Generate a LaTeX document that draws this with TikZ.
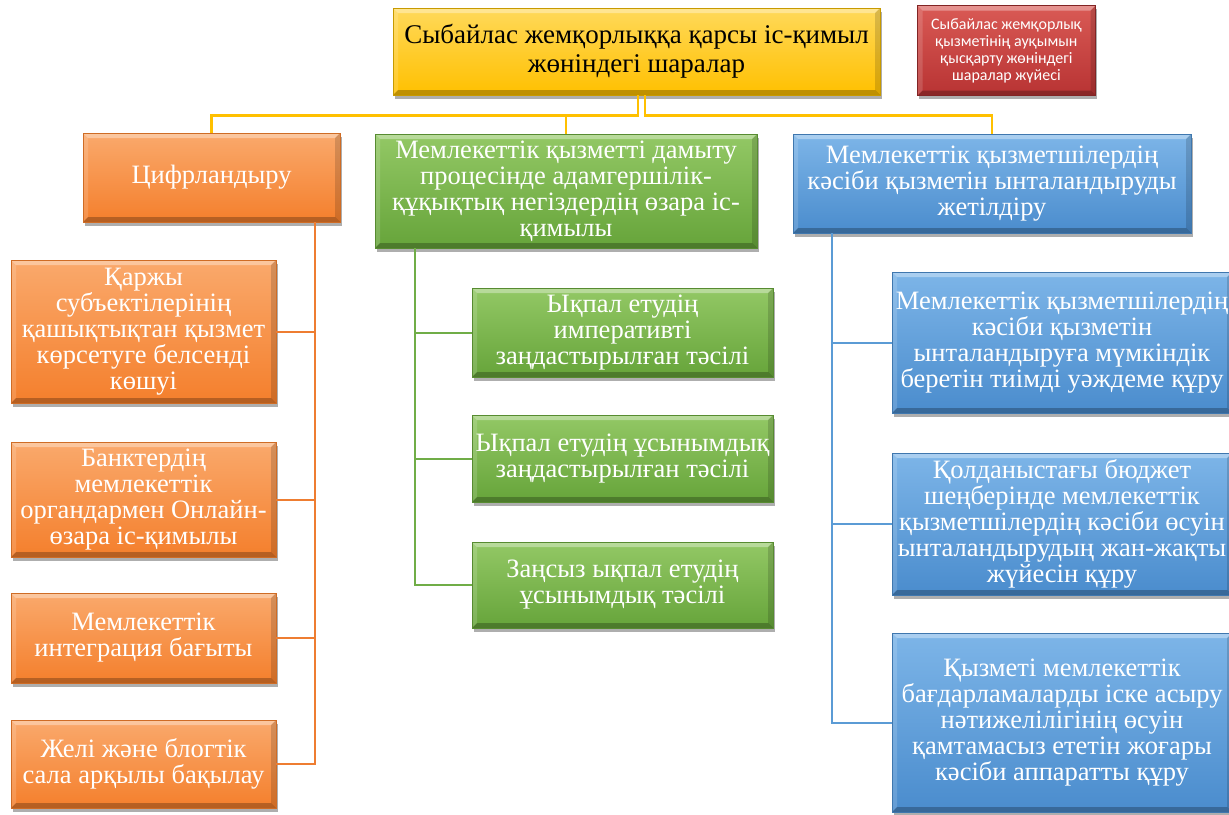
\documentclass[tikz,border=0pt]{standalone}
\usepackage{fontspec}
\setmainfont{Liberation Serif}
\newfontfamily\notefont{Carlito}
\usepackage{xcolor}
\usepackage{tikz}
\usetikzlibrary{positioning, shadows, calc}

\definecolor{ygold}{HTML}{FFC000}
\definecolor{ygoldlt}{HTML}{FFD95A}
\definecolor{ygolddk}{HTML}{C79A00}
\definecolor{rnote}{HTML}{B83333}
\definecolor{rnotelt}{HTML}{D95A55}
\definecolor{obox}{HTML}{F47F2C}
\definecolor{oboxlt}{HTML}{FAA96C}
\definecolor{oline}{HTML}{EE7D31}
\definecolor{gbox}{HTML}{66A43A}
\definecolor{gboxlt}{HTML}{93C865}
\definecolor{gline}{HTML}{70AD47}
\definecolor{bbox}{HTML}{4A8CCD}
\definecolor{bboxlt}{HTML}{7DB5E8}
\definecolor{bline}{HTML}{5B9BD5}

\tikzset{
  bevel/.style={path picture={
    \coordinate (pNW) at (path picture bounding box.north west);
    \coordinate (pNE) at (path picture bounding box.north east);
    \coordinate (pSW) at (path picture bounding box.south west);
    \coordinate (pSE) at (path picture bounding box.south east);
    \fill[white,opacity=.35] (pNW) -- (pNE) -- ([shift={(-5pt,-5pt)}]pNE) -- ([shift={(5pt,-5pt)}]pNW) -- cycle;
    \fill[white,opacity=.15] (pNW) -- ([shift={(5pt,-5pt)}]pNW) -- ([shift={(5pt,5pt)}]pSW) -- (pSW) -- cycle;
    \fill[black,opacity=.25] (pSW) -- ([shift={(5pt,5pt)}]pSW) -- ([shift={(-5pt,5pt)}]pSE) -- (pSE) -- cycle;
    \fill[black,opacity=.15] (pNE) -- (pSE) -- ([shift={(-5pt,5pt)}]pSE) -- ([shift={(-5pt,-5pt)}]pNE) -- cycle;
  }},
  basebox/.style={rectangle, align=center, inner sep=0pt, bevel,
    drop shadow={shadow xshift=1.5pt, shadow yshift=-3.5pt, opacity=.45, fill=black!70},
    font=\fontsize{26.5}{26}\selectfont, text=white},
  titlebox/.style={basebox, top color=ygoldlt, bottom color=ygold, draw=ygolddk, line width=.8pt,
    text=black, font=\fontsize{27}{29}\selectfont},
  notebox/.style={basebox, top color=rnotelt, bottom color=rnote, draw=rnote!70!black, line width=.6pt,
    font=\notefont\fontsize{16}{17}\selectfont},
  orangebox/.style={basebox, top color=oboxlt, bottom color=obox, draw=obox!85!black, line width=.5pt},
  greenbox/.style={basebox, top color=gboxlt, bottom color=gbox, draw=gbox!85!black, line width=.5pt},
  bluebox/.style={basebox, top color=bboxlt, bottom color=bbox, draw=bbox!85!black, line width=.5pt},
  yconn/.style={draw=ygold, line width=2.2pt},
  oconn/.style={draw=oline, line width=2pt},
  gconn/.style={draw=gline, line width=2pt},
  bconn/.style={draw=bline, line width=2pt}
}

\begin{document}
\begin{tikzpicture}[x=1pt, y=-1pt]
    \fill[white] (0,0) rectangle (1229,814);
    \useasboundingbox (0,0) rectangle (1229,814);

    % top level
    \node[titlebox, minimum width=487pt, minimum height=87pt] (title) at (636.5,51.5)
      {Сыбайлас жемқорлыққа қарсы іс-қимыл\\жөніндегі шаралар};
    \node[notebox, minimum width=178pt, minimum height=90pt] (note) at (1006.5,50.5)
      {Сыбайлас жемқорлық\\қызметінің ауқымын\\қысқарту жөніндегі\\шаралар жүйесі};

    % three directions
    \node[orangebox, minimum width=257pt, minimum height=89pt] (cifr) at (211.5,177.5) {Цифрландыру};
    \node[greenbox, minimum width=382pt, minimum height=114pt] (adam) at (566,191)
      {Мемлекеттік қызметті дамыту\\процесінде адамгершілік-\\құқықтық негіздердің өзара іс-\\қимылы};
    \node[bluebox, minimum width=398pt, minimum height=99pt] (ynta) at (992,183.5)
      {Мемлекеттік қызметшілердің\\кәсіби қызметін ынталандыруды\\жетілдіру};

    % orange column
    \node[orangebox, minimum width=265pt, minimum height=143pt] (c1) at (143.5,331.5)
      {Қаржы\\субъектілерінің\\қашықтықтан қызмет\\көрсетуге белсенді\\көшуі};
    \node[orangebox, minimum width=265pt, minimum height=115pt] (c2) at (143.5,499.5)
      {Банктердің\\мемлекеттік\\органдармен Онлайн-\\өзара іс-қимылы};
    \node[orangebox, minimum width=265pt, minimum height=90pt] (c3) at (143.5,638)
      {Мемлекеттік\\интеграция бағыты};
    \node[orangebox, minimum width=265pt, minimum height=88pt] (c4) at (143.5,764)
      {Желі және блогтік\\сала арқылы бақылау};

    % green column
    \node[greenbox, minimum width=301pt, minimum height=89pt] (a1) at (622.5,332.5)
      {Ықпал етудің\\императивті\\заңдастырылған тәсілі};
    \node[greenbox, minimum width=301pt, minimum height=87pt] (a2) at (622.5,458.5)
      {Ықпал етудің ұсынымдық\\заңдастырылған тәсілі};
    \node[greenbox, minimum width=301pt, minimum height=86pt] (a3) at (622.5,585)
      {Заңсыз ықпал етудің\\ұсынымдық тәсілі};

    % blue column
    \node[bluebox, minimum width=340pt, minimum height=141pt] (y1) at (1062,342.5)
      {Мемлекеттік қызметшілердің\\кәсіби қызметін\\ынталандыруға мүмкіндік\\беретін тиімді уәждеме құру};
    \node[bluebox, minimum width=340pt, minimum height=142pt] (y2) at (1062,524)
      {Қолданыстағы бюджет\\шеңберінде мемлекеттік\\қызметшілердің кәсіби өсуін\\ынталандырудың жан-жақты\\жүйесін құру};
    \node[bluebox, minimum width=340pt, minimum height=179pt] (y3) at (1062,722.5)
      {Қызметі мемлекеттік\\бағдарламаларды іске асыру\\нәтижелілігінің өсуін\\қамтамасыз ететін жоғары\\кәсіби аппаратты құру};

    % connectors
    \draw[yconn] ([xshift=1.5pt]title.south) -- ++(0,20) -| (cifr.north);
    \draw[yconn] ([xshift=1.5pt]title.south) -- ++(0,20) -| (adam.north);
    \draw[yconn] ([xshift=8.5pt]title.south) -- ++(0,20) -| (ynta.north);
    \foreach \k in {c1,c2,c3,c4}
      \draw[oconn] ([xshift=-25pt]cifr.south east) |- (\k.east);
    \foreach \k in {a1,a2,a3}
      \draw[gconn] ([xshift=40pt]adam.south west) |- (\k.west);
    \foreach \k in {y1,y2,y3}
      \draw[bconn] ([xshift=39pt]ynta.south west) |- (\k.west);
\end{tikzpicture}
\end{document}
